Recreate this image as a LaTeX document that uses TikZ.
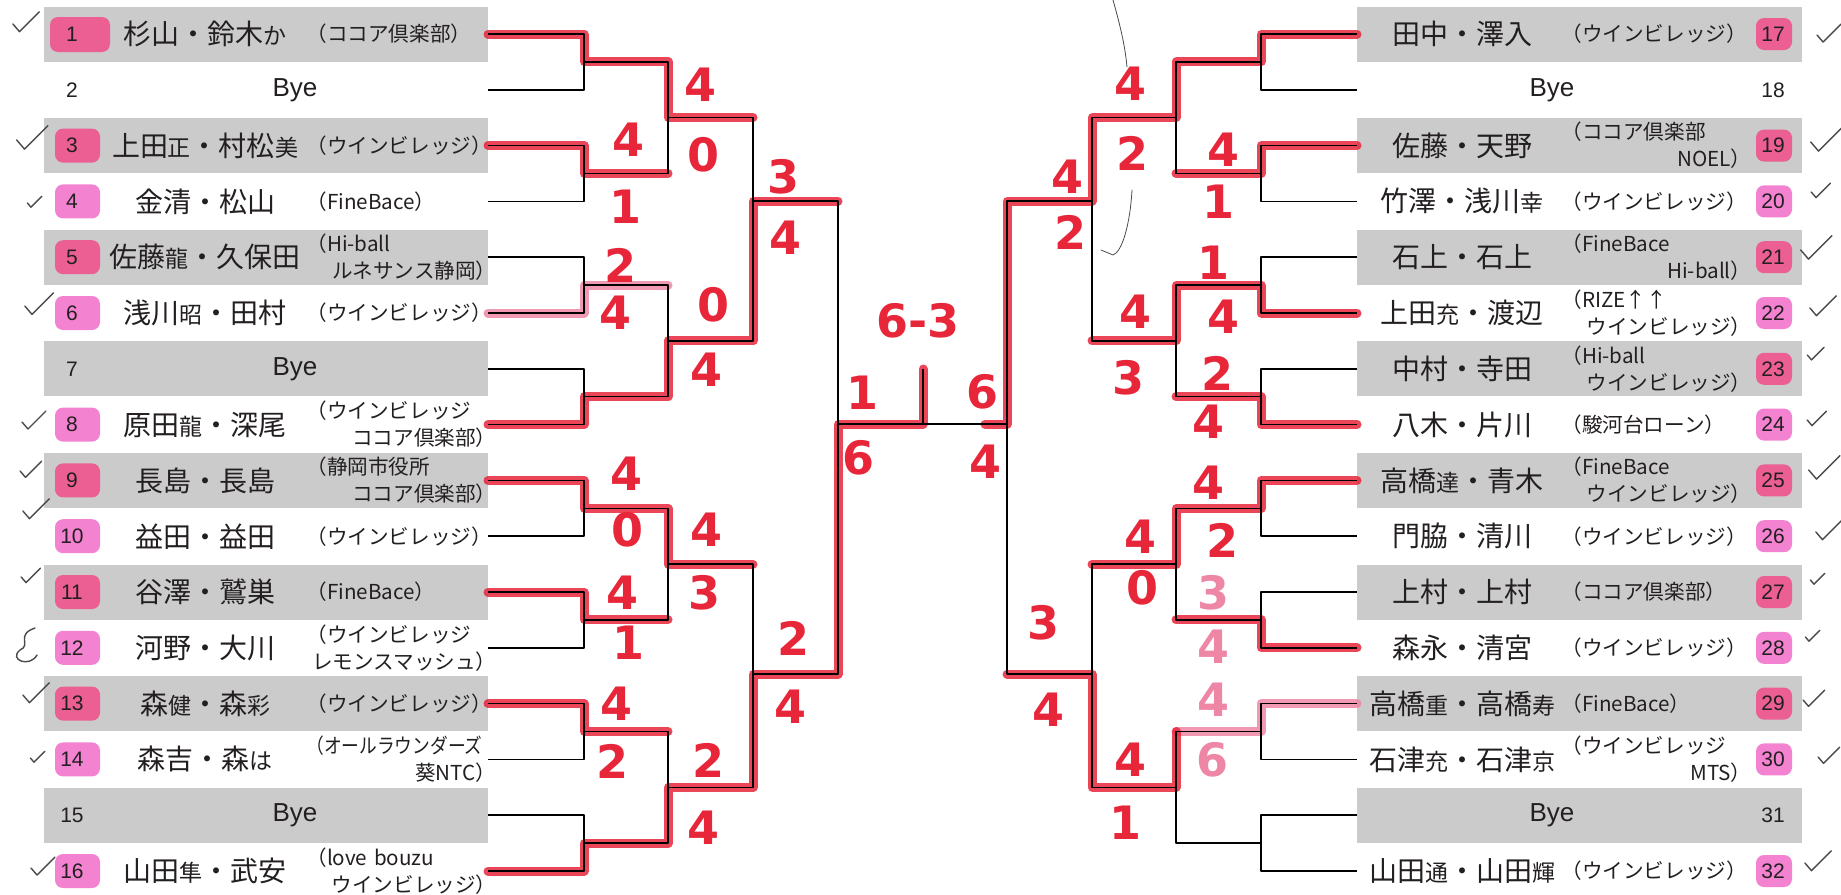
\documentclass[tikz,border=0pt]{standalone}
\usepackage{fontspec}
\usepackage{graphicx}
\setmainfont{Liberation Sans}
\newfontfamily\jp{Noto Sans CJK JP}
\newfontfamily\hand{DejaVu Sans}

\definecolor{rowgray}{HTML}{CBCBCB}
\definecolor{inkgray}{HTML}{231F20}
\definecolor{penred}{HTML}{E8263A}
\definecolor{penpale}{HTML}{EE86A6}
\definecolor{hiliteA}{HTML}{EC5F92}
\definecolor{hiliteB}{HTML}{F383D0}
\definecolor{pencil}{HTML}{4A4A4A}

\newcommand\sm[1]{{\fontsize{11.5}{11.5}\selectfont#1}}
\newcommand\two[2]{#1\\\hspace*{\fill}#2}
\newcommand\chk[3]{\draw[pencilline] (#1,#2) ++(-11*#3,0) -- ++(6*#3,7*#3) -- ++(18*#3,-18*#3);}

\tikzset{
  rowbox/.style={draw=none, minimum width=222pt, minimum height=27.5pt, inner sep=0pt, outer sep=0pt},
  numtxt/.style={text=inkgray, font=\fontsize{10.5}{12}\selectfont, inner sep=0pt},
  byetxt/.style={text=inkgray, font=\fontsize{13}{15}\selectfont, inner sep=0pt},
  nametxt/.style={text=inkgray, font=\jp\fontsize{14}{16}\selectfont, inner sep=0pt},
  clubtxt/.style={text=inkgray, font=\jp\fontsize{10.3}{13.5}\selectfont, anchor=west,
    text width=95pt, align=left, inner sep=0pt},
  tree/.style={draw=black, line width=0.75pt},
  winline/.style={draw=penred, line width=4.5pt, line cap=round, opacity=0.85},
  winpale/.style={winline, draw=penpale},
  score/.style={text=penred, font=\hand\bfseries\fontsize{23}{23}\selectfont, inner sep=0pt},
  scorepale/.style={score, text=penpale},
  pencilline/.style={draw=pencil, line width=0.7pt, line cap=round, line join=round},
}

\begin{document}
\begin{tikzpicture}[x=0.5pt,y=-0.5pt,line join=round]
  % Same frame as the scanned sheet.
  \useasboundingbox (0,0) rectangle (1841,894);

  % Entry rows, gray on odd rows.
  \foreach \i in {1,...,16} {
    \pgfmathsetmacro\yy{34+55.8*(\i-1)}
    \ifodd\i \def\bg{rowgray}\else\def\bg{white}\fi
    \node[rowbox,fill=\bg] (e\i) at (266,\yy) {};
  }
  \foreach \i in {17,...,32} {
    \pgfmathsetmacro\yy{34+55.8*(\i-17)}
    \ifodd\i \def\bg{rowgray}\else\def\bg{white}\fi
    \node[rowbox,minimum width=222.5pt,fill=\bg] (e\i) at (1579.5,\yy) {};
  }

  % Marker on the seed numbers.
  \fill[hiliteA,rounded corners=4] (50,17) rectangle (110,52);
  \foreach \i in {3,5,9,11,13} {
    \pgfmathsetmacro\yy{34+55.8*(\i-1)}
    \fill[hiliteA,rounded corners=4] (55,\yy-17) rectangle (100,\yy+17);
  }
  \foreach \i in {4,6,8,10,12,14,16} {
    \pgfmathsetmacro\yy{34+55.8*(\i-1)}
    \fill[hiliteB,rounded corners=4] (55,\yy-17) rectangle (100,\yy+17);
  }
  \foreach \i in {17,19,21,23,25,27,29} {
    \pgfmathsetmacro\yy{34+55.8*(\i-17)}
    \fill[hiliteA,rounded corners=4] (1756,\yy-16) rectangle (1792,\yy+16);
  }
  \foreach \i in {20,22,24,26,28,30,32} {
    \pgfmathsetmacro\yy{34+55.8*(\i-17)}
    \fill[hiliteB,rounded corners=4] (1756,\yy-16) rectangle (1792,\yy+16);
  }

  % Seed numbers.
  \foreach \i in {1,...,16} {
    \pgfmathsetmacro\yy{34+55.8*(\i-1)}
    \node[numtxt] (n\i) at (72,\yy) {\i};
  }
  \foreach \i in {17,...,32} {
    \pgfmathsetmacro\yy{34+55.8*(\i-17)}
    \node[numtxt] (n\i) at (1773,\yy) {\i};
  }

  % Pairs and clubs, left half.
  \foreach \i/\nm/\cl in {
    1/{杉山・鈴木\sm{か}}/{（ココア倶楽部）},
    3/{上田\sm{正}・村松\sm{美}}/{（ウインビレッジ）},
    4/{金清・松山}/{（FineBace）},
    5/{佐藤\sm{龍}・久保田}/{\two{（Hi-ball}{ルネサンス静岡）}},
    6/{浅川\sm{昭}・田村}/{（ウインビレッジ）},
    8/{原田\sm{龍}・深尾}/{\two{（ウインビレッジ}{ココア倶楽部）}},
    9/{長島・長島}/{\two{（静岡市役所}{ココア倶楽部）}},
    10/{益田・益田}/{（ウインビレッジ）},
    11/{谷澤・鷲巣}/{（FineBace）},
    12/{河野・大川}/{\two{（ウインビレッジ}{レモンスマッシュ）}},
    13/{森\sm{健}・森\sm{彩}}/{（ウインビレッジ）},
    14/{森吉・森\sm{は}}/{\two{\scalebox{.86}[1]{（オールラウンダーズ}}{葵NTC）}},
    16/{山田\sm{隼}・武安}/{\two{（love bouzu}{ウインビレッジ）}}} {
    \pgfmathsetmacro\yy{34+55.8*(\i-1)}
    \node[nametxt] (m\i) at (205,\yy) {\nm};
    \node[clubtxt] (c\i) at (306,\yy) {\cl};
  }

  % Pairs and clubs, right half.
  \foreach \i/\nm/\cl in {
    17/{田中・澤入}/{（ウインビレッジ）},
    19/{佐藤・天野}/{\two{（ココア倶楽部}{NOEL）}},
    20/{竹澤・浅川\sm{幸}}/{（ウインビレッジ）},
    21/{石上・石上}/{\two{（FineBace}{Hi-ball）}},
    22/{上田\sm{充}・渡辺}/{\two{（RIZE↑↑}{ウインビレッジ）}},
    23/{中村・寺田}/{\two{（Hi-ball}{ウインビレッジ）}},
    24/{八木・片川}/{（駿河台ローン）},
    25/{高橋\sm{達}・青木}/{\two{（FineBace}{ウインビレッジ）}},
    26/{門脇・清川}/{（ウインビレッジ）},
    27/{上村・上村}/{（ココア倶楽部）},
    28/{森永・清宮}/{（ウインビレッジ）},
    29/{高橋\sm{重}・高橋\sm{寿}}/{（FineBace）},
    30/{石津\sm{充}・石津\sm{京}}/{\two{（ウインビレッジ}{MTS）}},
    32/{山田\sm{通}・山田\sm{輝}}/{（ウインビレッジ）}} {
    \pgfmathsetmacro\yy{34+55.8*(\i-17)}
    \node[nametxt] (m\i) at (1462,\yy) {\nm};
    \node[clubtxt] (c\i) at (1561,\yy) {\cl};
  }

  % Byes.
  \node[byetxt] (m2) at (295,89.8) {Bye};
  \node[byetxt] (m7) at (295,368.8) {Bye};
  \node[byetxt] (m15) at (295,815.2) {Bye};
  \node[byetxt] (m18) at (1552,89.8) {Bye};
  \node[byetxt] (m31) at (1552,815.2) {Bye};

  % Bracket joints, left half.
  \coordinate (la1) at (584,61.9);
  \coordinate (la2) at (584,173.5);
  \coordinate (la3) at (584,285.1);
  \coordinate (la4) at (584,396.7);
  \coordinate (la5) at (584,508.3);
  \coordinate (la6) at (584,619.9);
  \coordinate (la7) at (584,731.5);
  \coordinate (la8) at (584,843.1);
  \coordinate (lb1) at (668,117.7);
  \coordinate (lb2) at (668,340.9);
  \coordinate (lb3) at (668,564.1);
  \coordinate (lb4) at (668,787.3);
  \coordinate (lc1) at (753,201);
  \coordinate (lc2) at (753,674);
  \coordinate (ld) at (838,424);

  % Bracket joints, right half.
  \coordinate (ra1) at (1261,61.9);
  \coordinate (ra2) at (1261,173.5);
  \coordinate (ra3) at (1261,285.1);
  \coordinate (ra4) at (1261,396.7);
  \coordinate (ra5) at (1261,508.3);
  \coordinate (ra6) at (1261,619.9);
  \coordinate (ra7) at (1261,731.5);
  \coordinate (ra8) at (1261,843.1);
  \coordinate (rb1) at (1176,117.7);
  \coordinate (rb2) at (1176,340.9);
  \coordinate (rb3) at (1176,564.1);
  \coordinate (rb4) at (1176,787.3);
  \coordinate (rc1) at (1092,201);
  \coordinate (rc2) at (1092,674);
  \coordinate (rd) at (1007,424);
  \coordinate (champ) at (923,369);

  % Winners traced in red marker, under the printed lines.
  \draw[winline] (e1.east) -| (la1) -| (lb1) -- (lb1 -| lc1);
  \draw[winline] (e3.east) -| (la2) -- (la2 -| lb1);
  \draw[winpale] (e6.east) -| (la3) -- (la3 -| lb2);
  \draw[winline] (e8.east) -| (la4) -| (lb2) -| (lc1) -- (lc1 -| ld);
  \draw[winline] (e9.east) -| (la5) -| (lb3) -- (lb3 -| lc2);
  \draw[winline] (e11.east) -| (la6) -- (la6 -| lb3);
  \draw[winline] (e13.east) -| (la7) -- (la7 -| lb4);
  \draw[winline] (e16.east) -| (la8) -| (lb4) -| (lc2) -| (ld) -| (champ);
  \draw[winline] (e17.west) -| (ra1) -| (rb1) -| (rc1) -| (rd) -- ++(-22,0);
  \draw[winline] (e19.west) -| (ra2) -- (ra2 -| rb1);
  \draw[winline] (e22.west) -| (ra3) -| (rb2) -- (rb2 -| rc1);
  \draw[winline] (e24.west) -| (ra4) -- (ra4 -| rb2);
  \draw[winline] (e25.west) -| (ra5) -| (rb3) -- (rb3 -| rc2);
  \draw[winline] (e28.west) -| (ra6) -- (ra6 -| rb3);
  \draw[winpale] (e29.west) -| (ra7) -- (ra7 -| rb4);
  \draw[winline] (ra7 -| rb4) -| (rb4) -| (rc2) -- (rc2 -| rd);

  % Printed bracket.
  \foreach \k/\a/\b in {1/1/2,2/3/4,3/5/6,4/7/8,5/9/10,6/11/12,7/13/14,8/15/16}
    \draw[tree] (e\a.east) -| (la\k) |- (e\b.east);
  \foreach \k/\a/\b in {1/1/2,2/3/4,3/5/6,4/7/8}
    \draw[tree] (la\a) -| (lb\k) |- (la\b);
  \draw[tree] (lb1) -| (lc1) |- (lb2);
  \draw[tree] (lb3) -| (lc2) |- (lb4);
  \draw[tree] (lc1) -| (ld) |- (lc2);
  \foreach \k/\a/\b in {1/17/18,2/19/20,3/21/22,4/23/24,5/25/26,6/27/28,7/29/30,8/31/32}
    \draw[tree] (e\a.west) -| (ra\k) |- (e\b.west);
  \foreach \k/\a/\b in {1/1/2,2/3/4,3/5/6,4/7/8}
    \draw[tree] (ra\a) -| (rb\k) |- (ra\b);
  \draw[tree] (rb1) -| (rc1) |- (rb2);
  \draw[tree] (rb3) -| (rc2) |- (rb4);
  \draw[tree] (rc1) -| (rd) |- (rc2);
  \draw[tree] (ld) -- (rd);
  \draw[tree] (champ) -- (champ |- ld);

  % Handwritten scores, left half.
  \node[score] (s1) at (628,140) {4};
  \node[score] (s2) at (625,207) {1};
  \node[score] (s3) at (620,265) {2};
  \node[score] (s4) at (615,313) {4};
  \node[score] (s5) at (700,85) {4};
  \node[score] (s6) at (703,155) {0};
  \node[score] (s7) at (713,305) {0};
  \node[score] (s8) at (706,370) {4};
  \node[score] (s9) at (783,177) {3};
  \node[score] (s10) at (785,238) {4};
  \node[score] (s11) at (626,474) {4};
  \node[score] (s12) at (627,530) {0};
  \node[score] (s13) at (622,593) {4};
  \node[score] (s14) at (628,643) {1};
  \node[score] (s15) at (706,530) {4};
  \node[score] (s16) at (704,593) {3};
  \node[score] (s17) at (616,704) {4};
  \node[score] (s18) at (612,761) {2};
  \node[score] (s19) at (708,760) {2};
  \node[score] (s20) at (703,828) {4};
  \node[score] (s21) at (793,638) {2};
  \node[score] (s22) at (790,707) {4};
  \node[score] (s23) at (862,393) {1};
  \node[score] (s24) at (858,458) {6};
  \node[score] (fin) at (918,321) {6-3};

  % Handwritten scores, right half.
  \node[score] (s25) at (982,392) {6};
  \node[score] (s26) at (985,462) {4};
  \node[score] (s27) at (1067,177) {4};
  \node[score] (s28) at (1070,232) {2};
  \node[score] (s29) at (1130,84) {4};
  \node[score] (s30) at (1132,153) {2};
  \node[score] (s31) at (1223,150) {4};
  \node[score] (s32) at (1218,202) {1};
  \node[score] (s33) at (1213,263) {1};
  \node[score] (s34) at (1223,317) {4};
  \node[score] (s35) at (1135,312) {4};
  \node[score] (s36) at (1128,378) {3};
  \node[score] (s37) at (1217,373) {2};
  \node[score] (s38) at (1208,422) {4};
  \node[score] (s39) at (1208,483) {4};
  \node[score] (s40) at (1222,540) {2};
  \node[score] (s41) at (1140,537) {4};
  \node[score] (s42) at (1142,588) {0};
  \node[scorepale] (s43) at (1213,593) {3};
  \node[scorepale] (s44) at (1213,647) {4};
  \node[scorepale] (s45) at (1213,700) {4};
  \node[scorepale] (s46) at (1212,760) {6};
  \node[score] (s47) at (1043,623) {3};
  \node[score] (s48) at (1048,710) {4};
  \node[score] (s49) at (1130,760) {4};
  \node[score] (s50) at (1125,823) {1};

  % Pencil ticks beside the seeds.
  \chk{25}{24}{1.1}
  \chk{31}{140}{1.3}
  \chk{34}{203}{0.6}
  \chk{38}{306}{1.2}
  \chk{33}{422}{1.0}
  \chk{30}{471}{0.9}
  \chk{35}{511}{1.1}
  \chk{30}{577}{0.8}
  \chk{35}{695}{1.1}
  \chk{37}{758}{0.6}
  \chk{42}{868}{1.0}
  \draw[pencilline] (35,628) .. controls (15,635) and (32,645) .. (20,650)
    .. controls (8,660) and (30,668) .. (37,655);
  \chk{1828}{35}{1.0}
  \chk{1825}{142}{1.3}
  \chk{1820}{192}{0.8}
  \chk{1815}{250}{1.3}
  \chk{1822}{308}{1.1}
  \chk{1815}{355}{0.7}
  \chk{1816}{420}{0.8}
  \chk{1823}{470}{1.3}
  \chk{1828}{532}{1.1}
  \chk{1817}{580}{0.6}
  \chk{1812}{637}{0.6}
  \chk{1813}{700}{0.9}
  \chk{1828}{757}{0.9}
  \chk{1817}{863}{1.1}

  % Stray pencil strokes.
  \draw[pencilline,line width=0.4pt] (1113,0) .. controls (1120,25) and (1125,45) .. (1127,67);
  \draw[pencilline,line width=0.4pt] (1132,190) .. controls (1130,225) and (1122,252) .. (1113,255) -- (1101,250);
\end{tikzpicture}
\end{document}
